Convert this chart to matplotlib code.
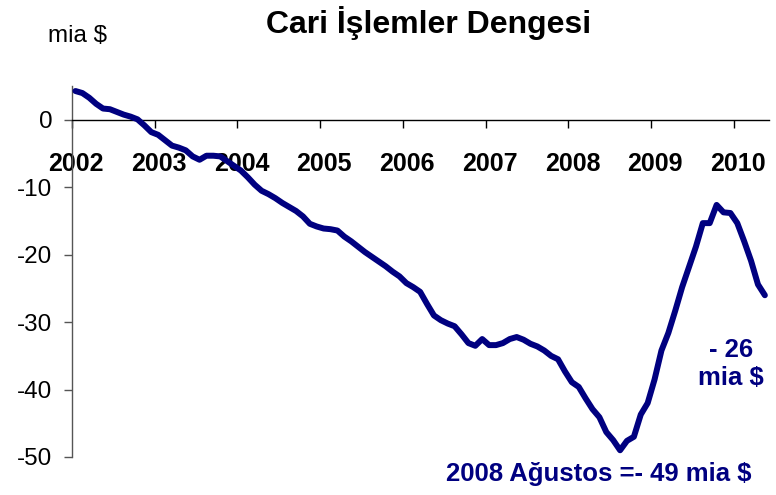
import matplotlib
matplotlib.use("Agg")
import matplotlib.pyplot as plt
from matplotlib.transforms import ScaledTranslation

plt.rcParams['font.family'] = ['Liberation Sans', 'DejaVu Sans']

# Monthly current account balance (bn $), Jan 2002 .. May 2010
values = [
    4.3, 4.0, 3.3, 2.4, 1.7, 1.6, 1.2, 0.8, 0.5, 0.1, -0.8, -1.8,
    -2.2, -3.0, -3.8, -4.1, -4.5, -5.4, -5.9, -5.3, -5.3, -5.4, -6.1, -6.8,
    -7.5, -8.5, -9.6, -10.5, -11.0, -11.6, -12.3, -12.9, -13.5, -14.3, -15.4, -15.8,
    -16.1, -16.2, -16.4, -17.3, -18.0, -18.8, -19.6, -20.3, -21.0, -21.7, -22.5, -23.2,
    -24.2, -24.8, -25.5, -27.3, -29.0, -29.7, -30.2, -30.6, -31.8, -33.1, -33.5, -32.5,
    -33.4, -33.4, -33.1, -32.5, -32.2, -32.6, -33.2, -33.6, -34.2, -35.0, -35.5, -37.3,
    -38.9, -39.6, -41.3, -42.9, -44.1, -46.3, -47.5, -49.0, -47.6, -47.0, -43.7, -42.0,
    -38.5, -34.2, -31.6, -28.3, -24.8, -21.8, -18.8, -15.3, -15.3, -12.6, -13.7, -13.8,
    -15.3, -18.0, -20.9, -24.4, -26.0,
]
years = ['2002', '2003', '2004', '2005', '2006', '2007', '2008', '2009', '2010']
yticks = [0, -10, -20, -30, -40, -50]

title = 'Cari İşlemler Dengesi'
unit_label = 'mia $'
last_label = '- 26\nmia $'
min_label = '2008 Ağustos =- 49 mia $'

W, H = 776, 495
fig = plt.figure(figsize=(W / 100, H / 100), dpi=100)
ax = fig.add_axes([72 / W, 1 - 457 / H, (769 - 72) / W, (457 - 86.3) / H])

months = list(range(len(values)))
ax.plot(months, values, color='#000080', lw=4.3,
        solid_joinstyle='round', solid_capstyle='round', zorder=3)

ax.set_xlim(-0.5, 100.6)
ax.set_ylim(-50, 5)

ax.spines['top'].set_visible(False)
ax.spines['right'].set_visible(False)
ax.spines['left'].set_color('#555555')
ax.spines['left'].set_linewidth(1.0)
ax.spines['bottom'].set_position(('data', 0))
ax.spines['bottom'].set_color('black')
ax.spines['bottom'].set_linewidth(1.0)

tick_pos = [-0.5 + 12 * i for i in range(len(years))]
ax.set_xticks(tick_pos)
ax.set_xticklabels(years, fontsize=18, fontweight='bold')
ax.tick_params(axis='x', direction='out', length=6, width=1, color='black', pad=17)
off = ScaledTranslation(4 / 100, 0, fig.dpi_scale_trans)
for lab in ax.get_xticklabels():
    lab.set_transform(lab.get_transform() + off)

ax.set_yticks(yticks)
ax.set_yticklabels([str(v) for v in yticks], fontsize=17.5)
ax.tick_params(axis='y', direction='out', length=6, width=1, color='#555555', pad=8)

fig.text(428.5 / W, 1 - 23 / H, title, ha='center', va='center',
         fontsize=23, fontweight='bold', color='black')
fig.text(78 / W, 1 - 36 / H, unit_label, ha='center', va='center',
         fontsize=17.5, color='black')
fig.text(731 / W, 1 - 364 / H, last_label, ha='center', va='center',
         fontsize=18.5, fontweight='bold', color='#000080', linespacing=1.25)
fig.text(599 / W, 1 - 474 / H, min_label, ha='center', va='center',
         fontsize=18.5, fontweight='bold', color='#000080')

fig.savefig('out.png', dpi=100)
